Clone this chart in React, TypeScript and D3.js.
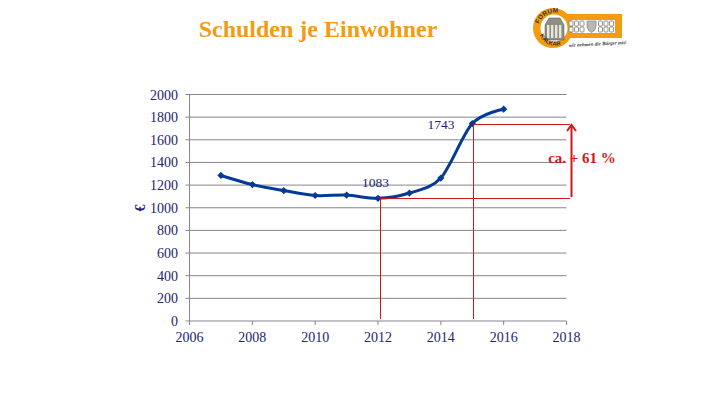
import React from 'react';
import * as d3 from 'd3';

const years = [2007, 2008, 2009, 2010, 2011, 2012, 2013, 2014, 2015, 2016];
const debts = [1285, 1205, 1152, 1108, 1112, 1083, 1130, 1262, 1743, 1870];
const yTicks = [0, 200, 400, 600, 800, 1000, 1200, 1400, 1600, 1800, 2000];
const xTicks = [2006, 2008, 2010, 2012, 2014, 2016, 2018];
const labelled = [
  { year: 2012, value: 1083 },
  { year: 2015, value: 1743 },
];

const SERIF = '"Liberation Serif", "Times New Roman", serif';
const SANS = '"Liberation Sans", Arial, sans-serif';
const NAVY = '#24246e';
const RED = '#d2161c';
const ORANGE = '#f39c12';
const BLUE = '#033a96';
const GRID = '#85858f';

const x = d3.scaleLinear().domain([2006, 2018]).range([189.5, 566.5]);
const y = d3.scaleLinear().domain([0, 2000]).range([321, 94.5]);

const line = d3.line<number>()
  .x((_, i) => x(years[i]))
  .y(d => y(d))
  .curve(d3.curveCardinal.tension(0.1));

const marker = d3.symbol().type(d3.symbolSquare).size(26)();

// snap the thin red lines on to a pixel row like the reference
const crisp = (v: number) => Math.round(v) + 0.5;

const Logo = () => (
  <g>
    <rect x={564} y={14} width={58} height={24} fill={ORANGE} />
    <rect x={568} y={20} width={47} height={13} fill="#fff" />
    <circle cx={553} cy={28} r={20} fill={ORANGE} />
    <circle cx={554} cy={28} r={13.5} fill="#fff" />
    {/* town hall */}
    <path d="M545 40 V25 L549 18 H560 L564 25 V40 Z" fill="#8f8f88" stroke="#55554f" strokeWidth={0.5} />
    {d3.range(4).map(i => (
      <rect key={i} x={547 + i * 4} y={25} width={2.4} height={13} fill="#e6e6e0" />
    ))}
    {/* window groups and shield */}
    {[569, 574.5, 580].map(wx =>
      [21, 27].map(wy => (
        <rect key={`${wx}-${wy}`} x={wx} y={wy} width={4} height={5} rx={1} fill="#fff" stroke="#77776f" strokeWidth={0.8} />
      )),
    )}
    {[598.5, 604, 609.5].map(wx =>
      [21, 27].map(wy => (
        <rect key={`${wx}-${wy}`} x={wx} y={wy} width={4} height={5} rx={1} fill="#fff" stroke="#77776f" strokeWidth={0.8} />
      )),
    )}
    <path d="M587 21 h9 v6 q-1 4 -4.5 5.5 q-3.5 -1.5 -4.5 -5.5 Z" fill="#b9b9b0" stroke="#77776f" strokeWidth={0.6} />
    <defs>
      <path id="logo-top" d="M539 24 A16.5 16.5 0 0 1 569 21" />
      <path id="logo-bottom" d="M540 35 A16.5 16.5 0 0 0 566 42" />
    </defs>
    <text fontFamily={SANS} fontSize={6.5} fontWeight="bold" fill="#333">
      <textPath href="#logo-top">FORUM</textPath>
    </text>
    <text fontFamily={SANS} fontSize={6} fontWeight="bold" fill="#333">
      <textPath href="#logo-bottom">KALKAR</textPath>
    </text>
    <text
      transform="translate(569,47) rotate(-3)"
      fontFamily={SERIF}
      fontSize={5}
      fontStyle="italic"
      fontWeight="bold"
      fill="#333"
    >
      wir nehmen die Bürger mit!
    </text>
  </g>
);

export default function App() {
  const [low, high] = labelled;
  const lowY = crisp(y(low.value));
  const highY = crisp(y(high.value));
  return (
    <svg
      width={720}
      height={405}
      style={{ position: 'absolute', left: 0, top: 0, background: '#fff' }}
      fontFamily={SERIF}
    >
      <text x={318} y={37} textAnchor="middle" fontSize={24} fontWeight="bold" fill={ORANGE}>
        Schulden je Einwohner
      </text>
      <Logo />

      {yTicks.map(t => (
        <g key={t}>
          <line x1={x(2006) - 4} x2={x(2018)} y1={y(t)} y2={y(t)} stroke={GRID} strokeWidth={1} />
          <text x={178} y={y(t) + 5} textAnchor="end" fontSize={14} fill={NAVY}>{t}</text>
        </g>
      ))}
      <line x1={x(2006)} x2={x(2006)} y1={y(2000)} y2={y(0)} stroke={GRID} />
      {xTicks.map(t => (
        <g key={t}>
          <line x1={x(t)} x2={x(t)} y1={y(0)} y2={y(0) + 4} stroke={GRID} />
          <text x={x(t)} y={341.5} textAnchor="middle" fontSize={14} fill={NAVY}>{t}</text>
        </g>
      ))}
      <text
        transform="translate(145,208) rotate(-90)"
        textAnchor="middle"
        fontSize={14}
        fontWeight="bold"
        fill={NAVY}
      >
        €
      </text>

      <path d={line(debts) ?? ''} fill="none" stroke={BLUE} strokeWidth={3} />
      {debts.map((d, i) => (
        <path key={years[i]} d={marker ?? ''} transform={`translate(${x(years[i])},${y(d)}) rotate(45)`} fill={BLUE} />
      ))}

      <line x1={380.5} x2={380.5} y1={lowY} y2={319} stroke={RED} />
      <line x1={473.5} x2={473.5} y1={highY} y2={319} stroke={RED} />
      <line x1={380.5} x2={570} y1={lowY} y2={lowY} stroke={RED} />
      <line x1={473.5} x2={570} y1={highY} y2={highY} stroke={RED} />
      <line x1={571.5} x2={571.5} y1={197} y2={127} stroke={RED} strokeWidth={2} />
      <path d="M567 131 L571.5 125 L576 131" fill="none" stroke={RED} strokeWidth={2} />

      <text x={375.5} y={187} textAnchor="middle" fontSize={13.5} fill={NAVY}>{low.value}</text>
      <text x={441} y={129} textAnchor="middle" fontSize={13.5} fill={NAVY}>{high.value}</text>
      <text x={582} y={163} textAnchor="middle" fontSize={15} fontWeight="bold" fill={RED}>ca. + 61 %</text>
    </svg>
  );
}
